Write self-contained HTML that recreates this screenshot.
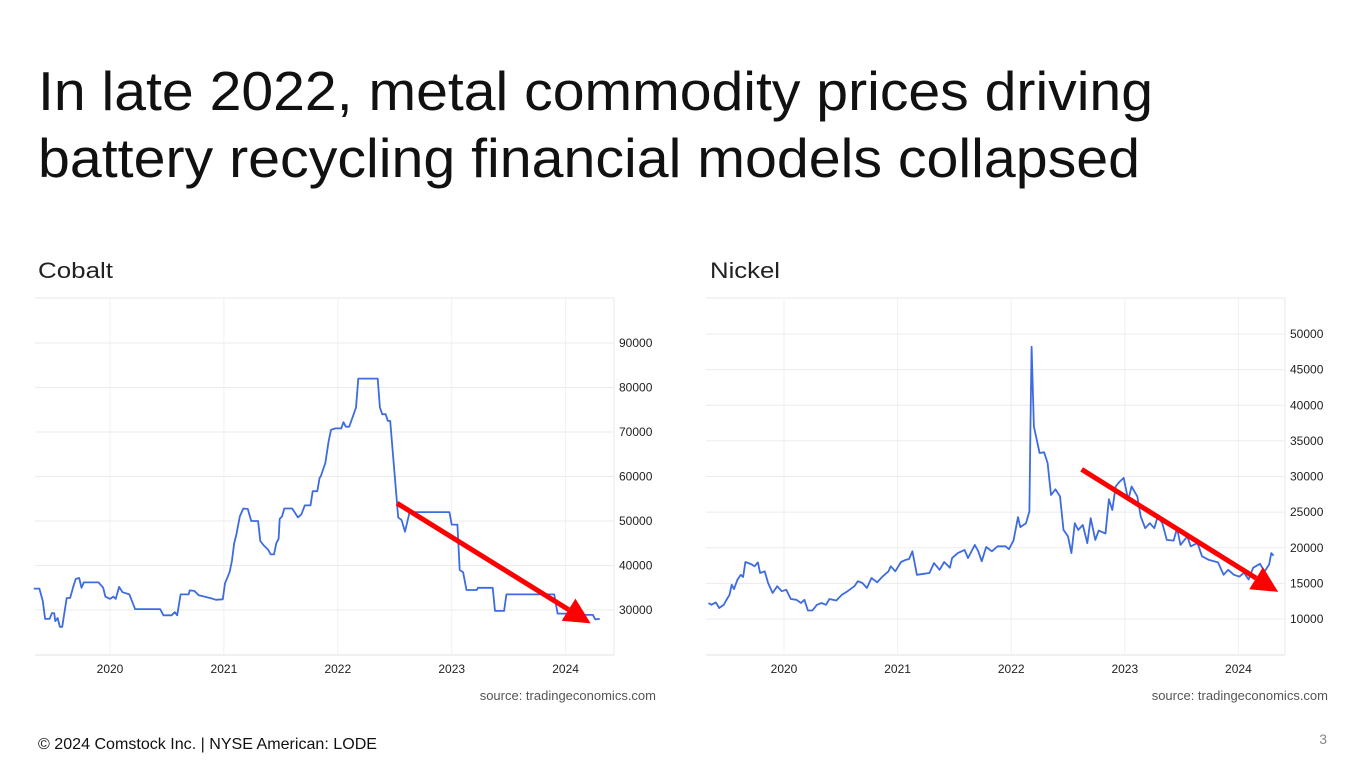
<!DOCTYPE html>
<html><head><meta charset="utf-8">
<style>
body{margin:0;width:1365px;height:768px;background:#fff;overflow:hidden;font-family:"Liberation Sans",sans-serif;}
svg{position:absolute;left:0;top:0;}
</style></head>
<body>
<svg id="s" width="1365" height="768" viewBox="0 0 1365 768">
<text x="38" y="110" font-size="55" fill="#111" textLength="1115" lengthAdjust="spacingAndGlyphs">In late 2022, metal commodity prices driving</text>
<text x="38" y="177" font-size="55" fill="#111" textLength="1102" lengthAdjust="spacingAndGlyphs">battery recycling financial models collapsed</text>
<text x="38" y="278" font-size="22" fill="#222" textLength="75" lengthAdjust="spacingAndGlyphs">Cobalt</text>
<text x="710" y="278" font-size="22" fill="#222" textLength="70" lengthAdjust="spacingAndGlyphs">Nickel</text>
<text x="656" y="700" font-size="13" fill="#555" text-anchor="end">source: tradingeconomics.com</text>
<text x="1328" y="700" font-size="13" fill="#555" text-anchor="end">source: tradingeconomics.com</text>
<text x="38" y="749" font-size="16" fill="#111" textLength="339" lengthAdjust="spacingAndGlyphs">© 2024 Comstock Inc. | NYSE American: LODE</text>
<text x="1327" y="744" font-size="14" fill="#888" text-anchor="end">3</text>
<g id="cobalt"></g>
<g id="nickel"></g>
</svg>
<script>
const yearTicks = [2020, 2021, 2022, 2023, 2024];
const cobaltYTicks = [30000, 40000, 50000, 60000, 70000, 80000, 90000];
const nickelYTicks = [10000, 15000, 20000, 25000, 30000, 35000, 40000, 45000, 50000];
const cobaltDates = [2019.33,2019.38,2019.41,2019.43,2019.47,2019.49,2019.51,2019.52,2019.54,2019.56,2019.58,2019.62,2019.65,2019.68,2019.70,2019.73,2019.75,2019.77,2019.90,2019.94,2019.96,2020.0,2020.03,2020.05,2020.08,2020.11,2020.17,2020.22,2020.44,2020.47,2020.54,2020.57,2020.59,2020.62,2020.69,2020.70,2020.74,2020.78,2020.83,2020.89,2020.93,2020.99,2021.01,2021.05,2021.07,2021.09,2021.11,2021.14,2021.17,2021.21,2021.24,2021.30,2021.32,2021.35,2021.39,2021.41,2021.44,2021.46,2021.48,2021.49,2021.51,2021.53,2021.60,2021.65,2021.68,2021.71,2021.76,2021.78,2021.82,2021.84,2021.85,2021.89,2021.92,2021.94,2021.98,2022.03,2022.05,2022.07,2022.10,2022.14,2022.16,2022.18,2022.35,2022.37,2022.39,2022.42,2022.44,2022.46,2022.50,2022.53,2022.56,2022.59,2022.63,2022.98,2023.0,2023.05,2023.07,2023.10,2023.13,2023.22,2023.23,2023.36,2023.38,2023.46,2023.48,2023.90,2023.93,2024.04,2024.09,2024.24,2024.26,2024.30];
const cobaltValues = [34800,34800,32000,28000,28000,29300,29300,27500,28200,26200,26200,32700,32700,35500,37000,37200,35000,36200,36200,35000,33000,32500,33000,32500,35200,34000,33500,30200,30200,28800,28800,29500,28800,33500,33500,34400,34300,33300,33000,32600,32300,32400,36000,38500,41000,45000,47000,51000,52800,52700,50000,50000,45500,44500,43500,42500,42500,45000,46000,50500,51000,52800,52800,50800,51500,53500,53500,56700,56700,59700,60000,63000,68000,70500,70800,70800,72200,71200,71200,74000,75500,82000,82000,75500,74000,74000,72500,72500,60000,50800,50200,47600,52000,52000,49200,49200,39000,38500,34500,34500,35000,35000,29800,29800,33500,33500,29200,29200,28900,28900,27900,28000];
const nickelDates = [2019.335,2019.36,2019.40,2019.43,2019.47,2019.49,2019.52,2019.54,2019.56,2019.59,2019.62,2019.64,2019.66,2019.71,2019.74,2019.77,2019.79,2019.83,2019.86,2019.90,2019.94,2019.98,2020.02,2020.06,2020.11,2020.15,2020.18,2020.21,2020.25,2020.29,2020.33,2020.37,2020.40,2020.46,2020.51,2020.56,2020.62,2020.65,2020.69,2020.73,2020.77,2020.82,2020.87,2020.92,2020.94,2020.98,2021.03,2021.07,2021.10,2021.13,2021.17,2021.23,2021.28,2021.32,2021.37,2021.41,2021.46,2021.48,2021.53,2021.59,2021.62,2021.68,2021.71,2021.74,2021.78,2021.83,2021.88,2021.95,2021.98,2022.02,2022.06,2022.08,2022.13,2022.16,2022.17,2022.18,2022.20,2022.25,2022.29,2022.32,2022.35,2022.39,2022.43,2022.46,2022.50,2022.53,2022.56,2022.59,2022.63,2022.67,2022.70,2022.74,2022.77,2022.83,2022.86,2022.89,2022.92,2022.95,2022.99,2023.03,2023.06,2023.11,2023.14,2023.18,2023.22,2023.26,2023.29,2023.33,2023.37,2023.43,2023.46,2023.49,2023.55,2023.58,2023.64,2023.68,2023.74,2023.82,2023.87,2023.91,2023.96,2024.01,2024.05,2024.09,2024.13,2024.19,2024.23,2024.27,2024.29,2024.31];
const nickelValues = [12240,12000,12330,11540,12000,12600,13400,14800,14200,15500,16200,15900,18000,17700,17400,17950,16450,16700,15050,13650,14600,13900,14100,12800,12700,12250,12700,11200,11200,12000,12250,12000,12800,12600,13400,13900,14600,15300,15050,14350,15750,15150,16000,16700,17400,16700,18000,18300,18400,19500,16200,16350,16450,17850,16900,18000,17200,18550,19250,19700,18550,20400,19500,18100,20100,19500,20200,20200,19800,21000,24300,22900,23450,25100,37500,48200,37000,33300,33400,31900,27400,28200,27200,22500,21600,19250,23450,22500,23200,20650,24150,21100,22400,22000,26800,25300,28600,29200,29800,26700,28600,27200,24400,22750,23450,22750,24400,23450,21100,21000,22750,20400,21600,20200,20650,18800,18300,17950,16200,16900,16200,15950,16500,15550,17200,17750,16650,17650,19250,18900];
const cobaltArrow = [[2022.52, 54000], [2024.22, 27000]];
const nickelArrow = [[2022.62, 31000], [2024.35, 13800]];

const NS = 'http://www.w3.org/2000/svg';
function mk(tag, attrs, parent){const e=document.createElementNS(NS,tag);for(const k in attrs)e.setAttribute(k,attrs[k]);parent.appendChild(e);return e;}

function drawChart(g, cfg, dates, values, yTicks, arrow){
  const xs = y => cfg.x2020 + (y-2020)*cfg.pxYear;
  const ys = v => cfg.yRef + (cfg.vRef - v)*cfg.pxPerUnit;
  let l = mk('line',{x1:cfg.left,x2:cfg.right,y1:cfg.top,y2:cfg.top,stroke:'#e8e8e8'},g);
   
  l = mk('line',{x1:cfg.left,x2:cfg.right,y1:cfg.bottom,y2:cfg.bottom,stroke:'#e0e0e0'},g);
   
  l = mk('line',{x1:cfg.right,x2:cfg.right,y1:cfg.top,y2:cfg.bottom,stroke:'#e8e8e8'},g);
   
  yearTicks.forEach(yr=>{
    const x = xs(yr);
    const gl = mk('line',{x1:x,x2:x,y1:cfg.top,y2:cfg.bottom,stroke:'#f0f0f0'},g);
     
    const t = mk('text',{x:x,y:cfg.bottom+18,'font-size':12,'text-anchor':'middle',fill:'#222'},g);
    t.textContent = yr;
     
  });
  yTicks.forEach(v=>{
    const y = ys(v);
    const gl = mk('line',{x1:cfg.left,x2:cfg.right,y1:y,y2:y,stroke:'#ebebeb'},g);
     
    const t = mk('text',{x:cfg.right+5,y:y+4,'font-size':12,fill:'#222'},g);
    t.textContent = v;
     
  });
  const pts = dates.map((d,i)=>xs(d).toFixed(1)+','+ys(values[i]).toFixed(1)).join(' ');
  const pl = mk('polyline',{points:pts,fill:'none',stroke:'#3d6be0','stroke-width':1.8,'stroke-linejoin':'round'},g);
   
  const x1=xs(arrow[0][0]),y1=ys(arrow[0][1]),x2=xs(arrow[1][0]),y2=ys(arrow[1][1]);
  const ang=Math.atan2(y2-y1,x2-x1), hl=26, hw=13;
  const bx=x2-hl*Math.cos(ang), by=y2-hl*Math.sin(ang);
  const al = mk('line',{x1:x1,y1:y1,x2:bx,y2:by,stroke:'#f00','stroke-width':5},g);
   
  const px=-Math.sin(ang)*hw, py=Math.cos(ang)*hw;
  const ah = mk('polygon',{points:`${x2},${y2} ${bx+px},${by+py} ${bx-px},${by-py}`,fill:'#f00'},g);
   
}
drawChart(document.getElementById('cobalt'),
  {left:35,right:614,top:298,bottom:655,x2020:110,pxYear:113.9,yRef:610,vRef:30000,pxPerUnit:267/60000},
  cobaltDates, cobaltValues, cobaltYTicks, cobaltArrow);
drawChart(document.getElementById('nickel'),
  {left:706,right:1285,top:298,bottom:655,x2020:784,pxYear:113.6,yRef:619,vRef:10000,pxPerUnit:285/40000},
  nickelDates, nickelValues, nickelYTicks, nickelArrow);
</script>
</body></html>
